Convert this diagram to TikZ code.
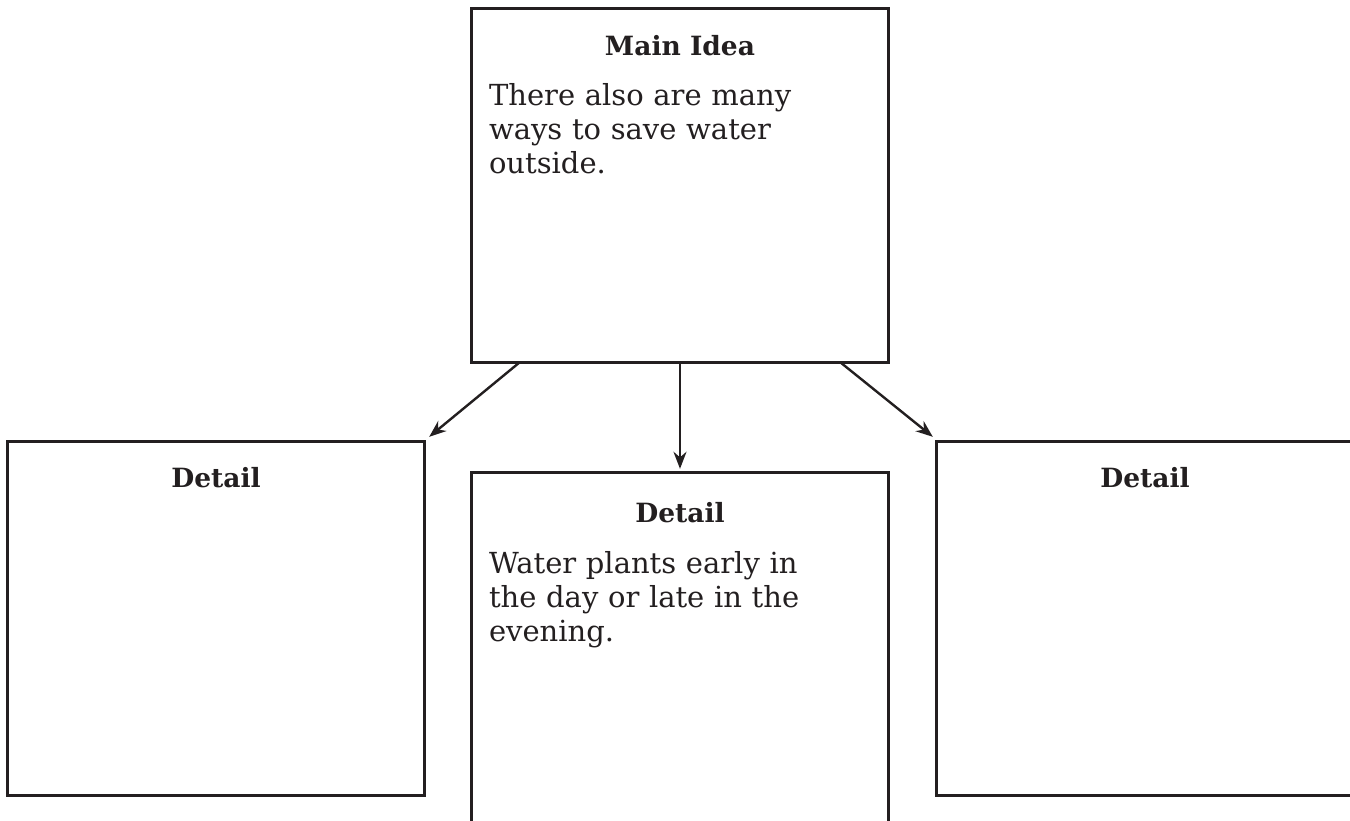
\documentclass[tikz,border=0pt]{standalone}
\usepackage{fontspec}
\setmainfont{DejaVu Serif}
\usetikzlibrary{arrows.meta,calc}
\definecolor{ink}{HTML}{231F20}
\begin{document}
\begin{tikzpicture}[x=1pt,y=-1pt,
  area/.style={minimum width=416pt,minimum height=353pt,inner sep=0pt},
  edge/.style={draw=ink,line width=3pt,line join=miter},
  head/.style={font=\fontsize{26.5}{30}\selectfont\bfseries,text=ink,inner sep=0pt},
  body/.style={font=\fontsize{29}{34}\selectfont,text=ink,align=left,text width=390pt,inner sep=0pt,anchor=north west},
  link/.style={draw=ink,line width=2.4pt,-{Stealth[length=17pt,width=13pt]}}]
\useasboundingbox (0,0) rectangle (1350,821);
\clip (0,0) rectangle (1350,821);
% boxes
\node[area] (main) at (680,185.5) {};
\node[area] (left) at (216,618.5) {};
\node[area] (mid) at (680,649.5) {};
\node[area] (right) at (1145,618.5) {};
\draw[edge] (main.south west) rectangle (main.north east);
\draw[edge] (left.south west) rectangle (left.north east);
\draw[edge] (mid.south west) -- (mid.north west) -- (mid.north east) -- (mid.south east);
\draw[edge] (right.north east) -- (right.north west) -- (right.south west) -- (right.south east);
% texts
\node[head] (mainh) at ($(main.north)+(0,37)$) {Main Idea};
\node[body] (maint) at ($(main.north west)+(17,74)$) {There also are many\\ ways to save water\\ outside.};
\node[head] (lefth) at ($(left.north)+(0,36)$) {Detail};
\node[head] (midh) at ($(mid.north)+(0,40)$) {Detail};
\node[body] (midt) at ($(mid.north west)+(17,78)$) {Water plants early in\\ the day or late in the\\ evening.};
\node[head] (righth) at ($(right.north)+(0,36)$) {Detail};
% connectors
\coordinate (s1) at ($(main.south west)+(48,0)$);
\coordinate (s2) at (main.south);
\coordinate (s3) at ($(main.south east)+(-48,0)$);
\coordinate (e1) at ($(left.north east)+(5,-5)$);
\coordinate (e2) at ($(mid.north)+(0,-4)$);
\coordinate (e3) at ($(right.north west)+(-4,-5)$);
\draw[link] (s1) -- (e1);
\draw[link] (s2) -- (e2);
\draw[link] (s3) -- (e3);
\end{tikzpicture}
\end{document}
